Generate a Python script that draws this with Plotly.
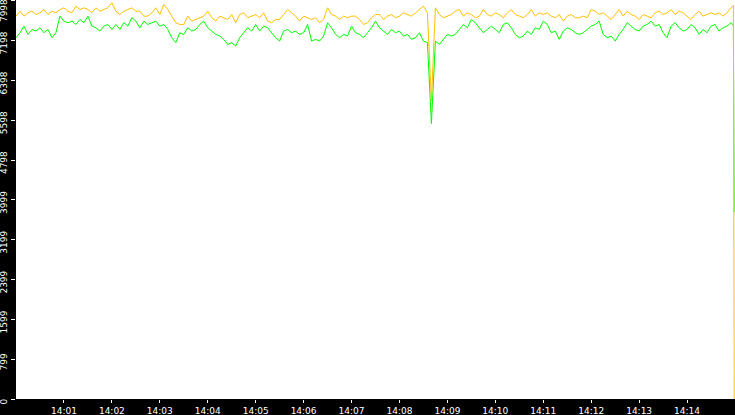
import pandas as pd
import plotly.graph_objects as go

# samples every 5 s from 14:00:00, plus the last two readings before 14:15
times = list(pd.date_range("2024-01-01 14:00:00", periods=180, freq="5s"))
times += [pd.Timestamp("2024-01-01 14:14:58"), pd.Timestamp("2024-01-01 14:14:59")]

orange = [
    7686, 7786, 7686, 7753, 7786, 7719, 7753, 7819, 7719, 7786, 7753, 7819, 7853, 7786, 7753, 7886,
    7819, 7853, 7819, 7753, 7853, 7786, 7819, 7853, 7953, 7786, 7719, 7786, 7819, 7853, 7786,
    7786, 7686, 7686, 7753, 7853, 7719, 7919, 7819, 7686, 7553, 7519, 7519, 7686, 7586, 7619,
    7653, 7686, 7786, 7653, 7586, 7686, 7653, 7619, 7719, 7553, 7719, 7753, 7653, 7686, 7719,
    7653, 7753, 7586, 7553, 7619, 7619, 7719, 7819, 7753, 7686, 7586, 7686, 7653, 7619, 7653,
    7553, 7619, 7853, 7719, 7686, 7619, 7686, 7653, 7686, 7686, 7619, 7519, 7553, 7653, 7719,
    7719, 7619, 7686, 7719, 7653, 7686, 7753, 7719, 7686, 7753, 7819, 7886, 7753, 5990, 7853,
    7719, 7653, 7686, 7719, 7786, 7819, 7686, 7753, 7719, 7653, 7686, 7819, 7719, 7686, 7753,
    7719, 7653, 7753, 7819, 7719, 7686, 7653, 7719, 7819, 7686, 7753, 7719, 7753, 7686, 7653,
    7719, 7586, 7686, 7719, 7653, 7653, 7686, 7653, 7819, 7786, 7719, 7753, 7686, 7619, 7719,
    7819, 7686, 7786, 7719, 7686, 7619, 7719, 7686, 7653, 7753, 7786, 7719, 7753, 7819, 7719,
    7786, 7753, 7686, 7619, 7719, 7786, 7686, 7719, 7753, 7719, 7753, 7686, 7753, 7853, 7900,
    0,
]

green = [
    7253, 7353, 7486, 7319, 7419, 7386, 7453, 7353, 7419, 7253, 7353, 7686, 7586, 7553, 7586, 7519,
    7619, 7553, 7686, 7486, 7453, 7386, 7486, 7519, 7419, 7519, 7419, 7553, 7486, 7653, 7586,
    7453, 7586, 7519, 7553, 7586, 7486, 7519, 7419, 7253, 7153, 7353, 7319, 7453, 7386, 7419,
    7519, 7586, 7453, 7386, 7319, 7286, 7219, 7119, 7153, 7086, 7253, 7353, 7453, 7386, 7519,
    7386, 7486, 7453, 7353, 7253, 7186, 7386, 7419, 7353, 7386, 7319, 7353, 7519, 7186, 7219,
    7186, 7286, 7553, 7453, 7319, 7253, 7319, 7286, 7486, 7353, 7319, 7253, 7353, 7453, 7586,
    7453, 7386, 7319, 7419, 7353, 7386, 7286, 7319, 7219, 7253, 7353, 7186, 7153, 5530, 7186,
    7119, 7219, 7319, 7286, 7319, 7419, 7519, 7453, 7619, 7553, 7453, 7353, 7419, 7486, 7419,
    7353, 7519, 7553, 7453, 7319, 7253, 7286, 7386, 7319, 7453, 7419, 7586, 7519, 7353, 7386,
    7219, 7386, 7453, 7419, 7353, 7319, 7353, 7419, 7486, 7519, 7586, 7319, 7253, 7286, 7186,
    7319, 7419, 7553, 7486, 7419, 7386, 7486, 7519, 7586, 7486, 7519, 7353, 7253, 7486, 7553,
    7453, 7386, 7419, 7519, 7453, 7319, 7419, 7353, 7486, 7519, 7386, 7453, 7486, 7553, 7500,
    3750,
]

y_ticks = [0, 799, 1599, 2399, 3199, 3999, 4798, 5598, 6398, 7198, 7998]
x_ticks = pd.date_range("2024-01-01 14:01:00", periods=14, freq="1min")

fig = go.Figure()
fig.add_trace(go.Scatter(x=times, y=green, mode="lines",
                         line=dict(color="#00ff00", width=1)))
fig.add_trace(go.Scatter(x=times, y=orange, mode="lines",
                         line=dict(color="#ffc000", width=1)))

fig.update_layout(
    width=735, height=415,
    margin=dict(l=16, r=0, t=0, b=16, pad=0),
    paper_bgcolor="black", plot_bgcolor="white",
    showlegend=False,
    font=dict(family="DejaVu Sans", size=9, color="white"),
)
fig.update_xaxes(
    range=["2024-01-01 14:00:00", "2024-01-01 14:15:00"],
    tickvals=x_ticks, tickformat="%H:%M",
    ticks="outside", ticklen=3, tickcolor="white",
    showgrid=False, zeroline=False, showline=False, automargin=False,
)
fig.update_yaxes(
    range=[0, 8010],
    tickvals=y_ticks, tickangle=-90, ticklabelshift=4,
    ticks="outside", ticklen=4, tickcolor="white",
    showgrid=False, zeroline=False, showline=False, automargin=False,
)

# the top label sits fully inside the figure, below its tick
fig.add_annotation(text=str(y_ticks[-1]), x=0, xref="paper", y=y_ticks[-1], yref="y",
                   xanchor="right", yanchor="top", textangle=-90, showarrow=False,
                   xshift=-6, yshift=2, borderpad=0, font=dict(size=9, color="white"))

fig.write_html("out.html", config={"displayModeBar": False},
               post_script="document.body.style.margin='0';document.body.style.background='black';")
